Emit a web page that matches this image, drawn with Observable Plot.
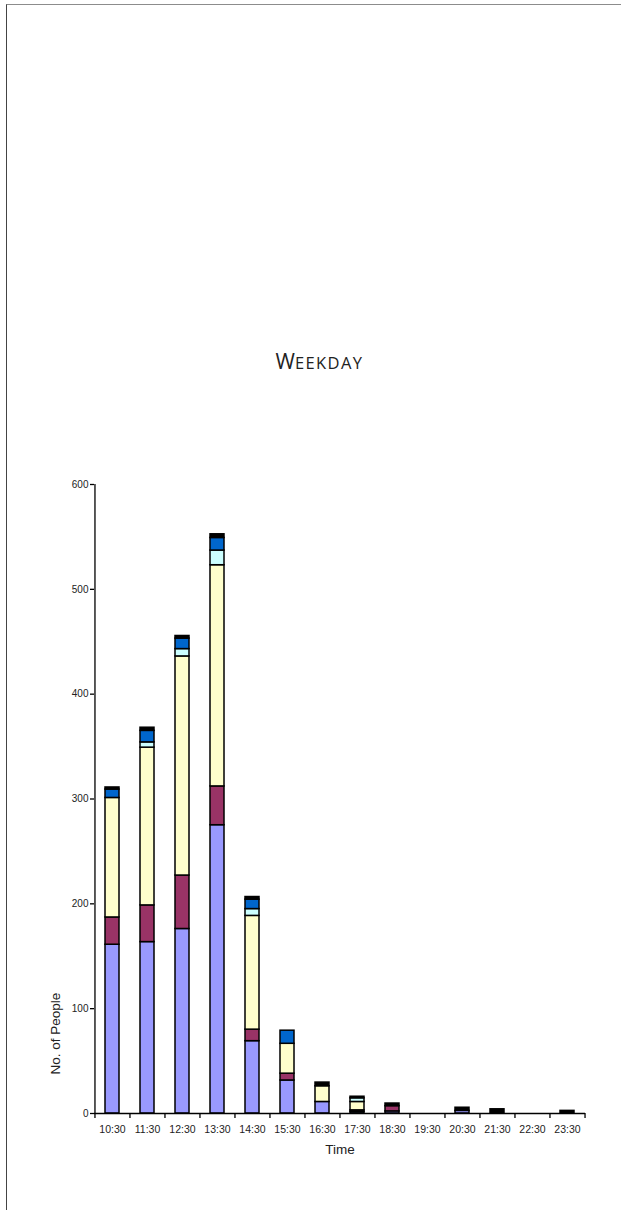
<!DOCTYPE html>
<html>
<head>
<meta charset="utf-8">
<script src="https://cdn.jsdelivr.net/npm/d3@7"></script>
<script src="https://cdn.jsdelivr.net/npm/@observablehq/plot@0.6"></script>
<style>
  html, body { margin: 0; padding: 0; background: #fff; }
  #wrap { position: relative; width: 621px; height: 1210px; overflow: hidden; }
  #border { position: absolute; left: 6px; top: 4px; width: 640px; height: 1300px;
            border-top: 1px solid #8c8c8c; border-left: 1px solid #444; }
  #title { position: absolute; left: 9px; width: 621px; top: 347px; text-align: center;
           font-family: "Open Sans", sans-serif; font-size: 21px; line-height: 28px;
           color: #222; margin: 0; font-weight: normal; }
  #title .sc { font-size: 16.5px; letter-spacing: 1.4px; }
  #chart { position: absolute; left: 0; top: 0; }
</style>
</head>
<body>
<div id="wrap">
  <div id="border"></div>
  <div id="title">W<span class="sc">EEKDAY</span></div>
  <div id="chart"></div>
</div>
<script>
const times = ["10:30","11:30","12:30","13:30","14:30","15:30","16:30","17:30","18:30","19:30","20:30","21:30","22:30","23:30"];
const seriesNames = ["Series 1","Series 2","Series 3","Series 4","Series 5","Series 6"];
const seriesColors = ["#9999FF","#993366","#FFFFCC","#CCFFFF","#0066CC","#000000"];
const s1 = [161, 163.5, 176, 275, 69, 31.5, 11, 1.5, 2, 0, 2.5, 0, 0, 0];
const s2 = [26, 35, 51, 37, 11, 6.5, 0, 1.5, 5, 0, 0, 0, 0, 0];
const s3 = [114, 150.5, 209, 211, 108.5, 28.5, 15, 8, 0, 0, 0, 0, 0, 0];
const s4 = [0, 5, 7, 14, 6.5, 0, 0, 3.5, 0, 0, 0, 0, 0, 0];
const s5 = [8, 11, 10, 12, 9, 12.5, 0, 0, 0, 0, 0, 0, 0, 0];
const s6 = [2, 3, 2.5, 3.5, 2.5, 0, 3.5, 1.5, 2.5, 0, 3, 4, 0, 2.5];
const yTicks = [0, 100, 200, 300, 400, 500, 600];

const allSeries = [s1, s2, s3, s4, s5, s6];
const data = [];
allSeries.forEach((vals, si) => {
  vals.forEach((v, i) => {
    if (v > 0) data.push({time: times[i], series: seriesNames[si], value: v});
  });
});

const W = 621, H = 1210, ML = 94, MR = 36, MT = 484, MB = 97;
const step = (W - ML - MR) / times.length;
const font = "'Liberation Sans', Arial, sans-serif";

const chart = Plot.plot({
  width: W,
  height: H,
  marginLeft: ML,
  marginRight: MR,
  marginTop: MT,
  marginBottom: MB,
  style: {fontFamily: font, color: "#222", background: "transparent", overflow: "visible"},
  x: {domain: times, paddingInner: 0.6, paddingOuter: 0.3, axis: null},
  y: {domain: [0, 600], axis: null},
  color: {domain: seriesNames, range: seriesColors},
  marks: [
    Plot.barY(data, {x: "time", y: "value", fill: "series", stroke: "#000", strokeWidth: 1.5}),
    Plot.axisY({ticks: yTicks, tickSize: 4, tickPadding: 2, fontSize: 10, label: null, stroke: "#000", strokeWidth: 1.3}),
    Plot.axisX({tickSize: 0, tickPadding: 12, fontSize: 10.5, label: null}),
    Plot.ruleX([times[0]], {y1: 0, y2: 600, dx: -step / 2, stroke: "#000", strokeWidth: 1.3}),
    Plot.ruleY([0], {stroke: "#000", strokeWidth: 1.3}),
    Plot.ruleX(times, {y1: 0, y2: -4.8, dx: -step / 2, stroke: "#000", strokeWidth: 1.3}),
    Plot.ruleX([times[times.length - 1]], {y1: 0, y2: -4.8, dx: step / 2, stroke: "#000", strokeWidth: 1.3}),
    Plot.text(["Time"], {frameAnchor: "bottom", dy: 40, fontSize: 13.5, fill: "#222"}),
    Plot.text(["No. of People"], {frameAnchor: "bottom-left", dx: -35, dy: -39, rotate: -90, fontSize: 13.5, fill: "#222"})
  ]
});
document.getElementById("chart").appendChild(chart);
</script>
</body>
</html>
